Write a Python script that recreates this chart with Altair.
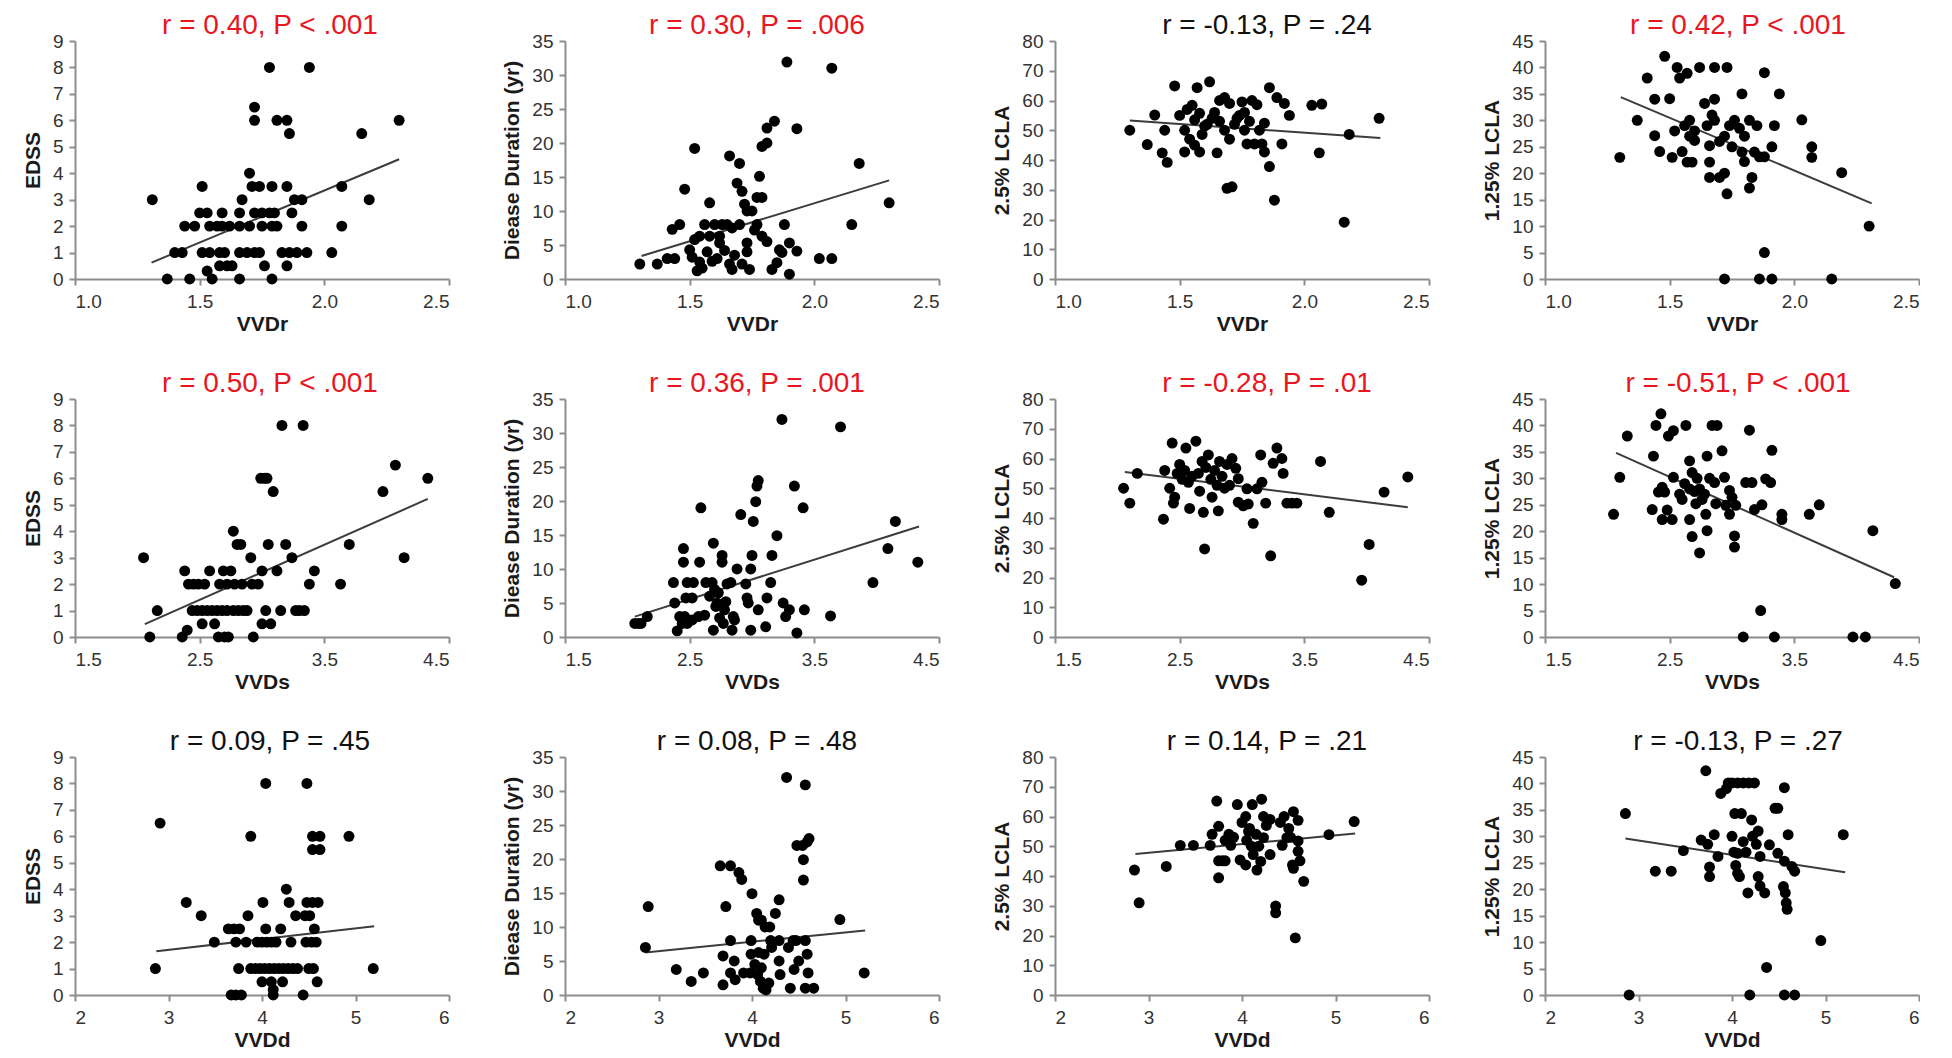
import altair as alt
import pandas as pd

# ---------------- data ----------------
titles = [
    ["r = 0.40, P < .001", "r = 0.30, P = .006", "r = -0.13, P = .24", "r = 0.42, P < .001"],
    ["r = 0.50, P < .001", "r = 0.36, P = .001", "r = -0.28, P = .01", "r = -0.51, P < .001"],
    ["r = 0.09, P = .45", "r = 0.08, P = .48", "r = 0.14, P = .21", "r = -0.13, P = .27"],
]
significant = [
    [True, True, False, True],
    [True, True, True, True],
    [False, False, False, False],
]
x_titles = ["VVDr", "VVDs", "VVDd"]
x_domains = [(1.0, 2.5), (1.5, 4.5), (2, 6)]
x_ticks = [[1.0, 1.5, 2.0, 2.5], [1.5, 2.5, 3.5, 4.5], [2, 3, 4, 5, 6]]
x_formats = [".1f", ".1f", "d"]
y_titles = ["EDSS", "Diease Duration (yr)", "2.5% LCLA", "1.25% LCLA"]
y_domains = [(0, 9), (0, 35), (0, 80), (0, 45)]
y_ticks = [list(range(0, 10, 1)), list(range(0, 36, 5)), list(range(0, 81, 10)), list(range(0, 46, 5))]
title_dx = [8, 5, 25, 6]

vvdr_edss = [(1.31,3),(1.37,0),(1.46,0),(1.53,0.3),(1.55,0),(1.66,0),(1.79,0),
    (1.51,3.5),(1.40,1),(1.43,1),(1.44,2),(1.48,2),(1.50,2.5),(1.53,2.5),
    (1.51,1),(1.54,1),(1.58,1),(1.60,1),(1.54,2),(1.57,2),(1.59,2),(1.62,2),
    (1.59,2.5),(1.58,0.5),(1.61,0.5),(1.63,0.5),(1.66,2.5),(1.67,3),
    (1.66,1),(1.69,1),(1.72,1),(1.74,1),(1.66,2),(1.70,2),(1.70,4),
    (1.71,3.5),(1.74,3.5),(1.79,3.5),(1.72,2.5),(1.75,2.5),(1.78,2.5),(1.80,2.5),
    (1.75,2),(1.79,2),(1.81,2),(1.76,0.5),(1.72,6.5),(1.72,6),(1.78,8),(1.81,6),(1.85,6),
    (1.86,5.5),(1.85,3.5),(1.83,1),(1.86,1),(1.89,1),(1.93,1),(1.85,0.5),(1.87,2.5),
    (1.88,3),(1.91,3),(1.91,2),(1.94,8),(2.03,1),(2.07,2),(2.07,3.5),(2.15,5.5),(2.18,3),(2.30,6)]
vvdr_dd = [(1.30,2.2),(1.37,2.2),(1.41,3),(1.44,3),(1.43,7.3),(1.46,8),(1.48,13.2),(1.52,19.2),
    (1.50,4.3),(1.52,5.8),(1.53,1.2),(1.51,3.2),(1.54,2.5),(1.55,1.6),(1.54,6.3),(1.56,8),(1.58,11.2),
    (1.58,6.3),(1.60,8),(1.57,4),(1.59,2.6),(1.61,3),(1.62,6.3),(1.63,8),(1.62,5.3),(1.64,4.2),
    (1.65,8),(1.67,7.5),(1.66,2.2),(1.67,1.4),(1.68,3.5),(1.66,18.1),(1.70,17),(1.69,14.1),
    (1.70,8),(1.71,12.9),(1.72,11),(1.73,10),(1.71,2.2),(1.73,4),(1.73,5.3),(1.74,1.4),
    (1.75,10),(1.77,12),(1.79,12),(1.78,15.1),(1.77,8),(1.76,7.2),(1.79,6.3),(1.81,5.5),
    (1.79,19.5),(1.81,20),(1.81,22.2),(1.84,23.2),(1.83,1.4),(1.85,2.4),(1.87,3.9),(1.86,4.3),
    (1.88,8),(1.89,31.9),(1.90,5.3),(1.93,4.1),(1.90,0.7),(1.93,22.1),(2.02,3),(2.07,3),
    (2.07,31),(2.15,8),(2.18,17),(2.30,11.2)]
vvdr_lcla25 = [(1.30,50),(1.37,45.2),(1.40,55.1),(1.43,42.4),(1.44,50),(1.45,39.2),(1.48,64.9),
    (1.50,55),(1.52,42.7),(1.52,50),(1.53,57),(1.55,58.4),(1.54,47),(1.56,45),(1.56,53.5),
    (1.57,64.3),(1.58,42.7),(1.58,55.7),(1.60,51.4),(1.59,48.6),(1.61,52),(1.62,66.3),
    (1.65,42.4),(1.64,56),(1.66,60),(1.68,61),(1.70,59),(1.66,53),(1.68,50),(1.70,47),
    (1.69,30.5),(1.71,31),(1.72,52),(1.74,55),(1.76,50),(1.75,59.5),(1.77,45.4),(1.78,53),
    (1.79,60),(1.80,45.4),(1.81,58.6),(1.82,50),(1.83,45.4),(1.84,52.4),(1.84,42.7),
    (1.86,64.3),(1.86,37.8),(1.88,26.5),(1.89,61),(1.92,59),(1.91,45.4),(1.94,55),
    (2.03,58.4),(2.07,58.8),(2.06,42.4),(2.16,19.1),(2.18,48.6),(2.30,54),(1.63,54),(1.73,54),(1.76,56)]
vvdr_lcla125 = [(1.30,23),(1.37,30),(1.41,38),(1.44,34),(1.44,27.1),(1.46,24.1),(1.48,42.1),(1.50,34.1),
    (1.51,23),(1.52,28),(1.53,40),(1.54,38),(1.55,24.1),(1.57,38.9),(1.56,29),(1.58,30),(1.58,27),
    (1.60,28),(1.57,22.1),(1.59,22.1),(1.60,26.2),(1.62,40),(1.64,33.2),(1.65,29),(1.66,25.2),
    (1.66,22.1),(1.66,19.2),(1.68,40),(1.68,34),(1.67,31),(1.68,30),(1.70,19.2),(1.72,20),
    (1.73,40),(1.73,16.1),(1.72,0),(1.72,27),(1.74,29),(1.75,25),(1.76,30),(1.79,35),(1.79,24),
    (1.80,27),(1.80,22.2),(1.82,30),(1.83,19.2),(1.82,17.2),(1.84,24),(1.85,29),(1.86,23.1),
    (1.86,0),(1.88,39),(1.88,23.1),(1.88,5),(1.91,25),(1.91,0),(1.92,29),(1.94,35),(2.03,30.1),
    (2.07,25),(2.07,23),(2.15,0),(2.19,20.1),(2.30,10),(1.70,26),(1.78,28.5)]
vvds_edss = [(2.05,3),(2.10,0),(2.16,1),(2.36,0),(2.40,0.26),(2.38,2.5),(2.41,2),(2.45,2),(2.49,2),(2.54,2),
    (2.44,1),(2.48,1),(2.52,1),(2.56,1),(2.60,1),(2.64,1),(2.68,1),(2.72,1),(2.77,1),(2.81,1),(2.85,1),
    (2.52,0.5),(2.62,0.5),(2.58,2.5),(2.65,0),(2.70,0),(2.73,0),(2.69,2.5),(2.75,2.5),
    (2.66,2),(2.72,2),(2.78,2),(2.84,2),(2.77,4),(2.80,3.5),(2.83,3.5),(2.91,3),(2.93,0),(2.97,2),
    (2.99,6),(3.02,6),(3.04,6),(3.00,2.5),(3.00,0.5),(3.03,1),(3.05,3.5),(3.07,0.5),(3.09,5.5),
    (3.12,2.5),(3.15,1),(3.16,8),(3.19,3.5),(3.24,3),(3.27,1),(3.30,1),(3.34,1),(3.33,8),
    (3.38,2),(3.42,2.5),(3.63,2),(3.70,3.5),(3.97,5.5),(4.07,6.5),(4.14,3),(4.33,6),(2.88,1),(2.92,2)]
vvds_dd = [(2.06,2),(2.09,2),(2.11,2),(2.16,3),(2.37,8),(2.38,5),(2.40,0.9),(2.45,13),(2.45,11),
    (2.42,3),(2.46,3),(2.44,2),(2.48,2),(2.47,5.75),(2.52,5.75),(2.48,8),(2.53,8),(2.52,2.5),
    (2.58,11),(2.59,19),(2.57,3),(2.62,3.2),(2.63,8),(2.68,8),(2.69,13.8),(2.66,6),(2.70,7),
    (2.71,4.5),(2.69,1),(2.72,5),(2.74,2.8),(2.76,12),(2.76,11),(2.77,2),(2.80,7.8),(2.83,8),
    (2.79,5.2),(2.84,1),(2.85,3),(2.88,10),(2.91,18),(2.86,2.5),(2.95,7.8),(2.96,5.75),(2.97,5),
    (2.99,10),(2.99,1),(3.00,12),(3.01,17),(3.03,19.9),(3.04,22.2),(3.05,23),(3.05,4),(3.11,1.5),
    (3.12,5.75),(3.15,8),(3.16,12),(3.20,14.9),(3.24,32),(3.25,5),(3.27,3),(3.30,4),(3.34,22.2),
    (3.36,0.6),(3.41,19),(3.42,4),(3.63,3.1),(3.71,30.9),(3.97,8),(4.09,13),(4.15,17),(4.33,11),(2.73,6.5),(2.78,4)]
vvds_lcla25 = [(2.05,50),(2.10,45),(2.16,55),(2.37,39.6),(2.38,56),(2.42,50),(2.44,65.2),(2.45,45),(2.46,47),
    (2.48,55),(2.50,58),(2.52,53),(2.54,56),(2.55,63.5),(2.57,52),(2.58,43.2),(2.63,65.8),(2.65,55),
    (2.68,59),(2.71,57),(2.66,49),(2.69,41.9),(2.70,29.6),(2.73,61.2),(2.76,47),(2.75,53),(2.78,56),
    (2.80,51),(2.82,59),(2.84,54),(2.86,50),(2.88,58),(2.81,42.4),(2.92,60),(2.95,56.7),(2.97,53.2),
    (2.97,45.3),(3.01,44.1),(3.04,49.8),(3.05,44.7),(3.09,38.2),(3.12,49.8),(3.15,61.2),(3.16,52),
    (3.19,45),(3.23,27.3),(3.25,58.4),(3.28,63.5),(3.32,60),(3.33,55),(3.36,45),(3.40,45),(3.44,45),
    (3.63,59),(3.70,41.9),(4.02,31.1),(3.96,19.1),(4.14,48.7),(4.33,53.8),(2.90,51),(2.60,54)]
vvds_lcla125 = [(2.05,23.2),(2.10,30.2),(2.16,38),(2.36,24.1),(2.37,34.2),(2.39,40),(2.43,42.2),(2.41,27.4),
    (2.46,27.4),(2.44,28.3),(2.44,22.2),(2.48,24),(2.49,38),(2.52,22.2),(2.53,39),(2.53,30.2),
    (2.58,27),(2.62,29),(2.60,26),(2.66,28),(2.63,40),(2.66,33.3),(2.66,22.2),(2.68,19),(2.68,31.1),
    (2.71,25.2),(2.74,15.9),(2.74,28),(2.78,27),(2.82,30),(2.76,26),(2.79,23.2),(2.80,34.2),(2.80,20.1),
    (2.84,40),(2.88,40),(2.86,29.2),(2.87,25.2),(2.92,35.2),(2.94,30.2),(2.95,24.9),(2.98,23.2),
    (2.98,27.7),(3.00,26.4),(3.02,19.1),(3.02,17),(3.03,24.9),(3.09,0),(3.11,29.2),(3.14,39.1),
    (3.16,29.2),(3.18,24.1),(3.23,5),(3.24,25),(3.27,29.9),(3.31,29.2),(3.32,35.3),(3.34,0),
    (3.40,23.2),(3.40,22.2),(3.62,23.2),(3.70,25),(3.97,0),(4.07,0),(4.13,20.1),(4.31,10.1),(2.70,27.5),(2.72,30)]
vvdd_edss = [(2.86,1),(2.91,6.5),(3.19,3.5),(3.35,3),(3.49,2),(3.64,2.5),(3.70,2.5),(3.76,2.5),
    (3.67,0),(3.72,0),(3.78,0),(3.72,2),(3.83,2),(3.75,1),(3.85,3),(3.88,6),
    (3.88,1),(3.93,1),(3.98,1),(4.03,1),(4.08,1),(4.13,1),(4.18,1),(4.23,1),(4.28,1),(4.33,1),(4.38,1),
    (3.95,2),(4.00,2),(4.05,2),(4.10,2),(4.15,2),(4.01,3.5),(4.04,8),(4.04,2.5),(4.00,0.5),(4.10,0.5),
    (4.12,0),(4.20,2.5),(4.22,0.5),(4.26,4),(4.29,3.5),(4.31,2),(4.36,3),(4.44,0),(4.48,8),
    (4.47,2),(4.53,2),(4.58,2),(4.46,3),(4.51,3),(4.48,3.5),(4.54,3.5),(4.60,3.5),(4.56,2.5),
    (4.54,6),(4.62,6),(4.54,5.5),(4.62,5.5),(4.50,1),(4.55,1),(4.59,0.5),(4.93,6),(5.19,1),(4.12,0.2)]
vvdd_dd = [(2.86,7),(2.89,13),(3.19,3.75),(3.35,2),(3.48,3.25),(3.66,19),(3.77,19),(3.72,13),(3.69,5.75),
    (3.69,1.5),(3.77,8),(3.77,3.25),(3.81,5),(3.82,2.25),(3.86,18),(3.89,17),(3.91,3.25),(3.98,3.25),
    (3.99,8),(3.99,6),(4.00,14.9),(4.05,12),(4.07,11),(4.10,11),(4.07,6.25),(4.03,4.5),(4.06,3),
    (4.09,2),(4.12,1),(4.15,0.75),(4.18,1.75),(4.14,10),(4.19,10),(4.20,8),(4.21,7),(4.25,12),
    (4.29,14),(4.29,8),(4.29,5),(4.30,3),(4.37,32),(4.39,7),(4.41,1),(4.44,8),(4.47,8),(4.45,3.75),
    (4.48,22),(4.50,5),(4.54,22),(4.55,19.9),(4.55,16.9),(4.57,30.9),(4.57,8),(4.59,6),(4.60,3.25),
    (4.59,22.5),(4.61,23),(4.57,1),(4.66,1),(4.94,11.1),(5.20,3.25),(4.10,4),(4.13,6)]
vvdd_lcla25 = [(2.85,42),(2.90,31),(3.19,43.2),(3.34,50.3),(3.48,50.3),(3.66,50.3),(3.68,54),(3.73,65.2),
    (3.75,56.7),(3.75,45.1),(3.79,45.1),(3.82,45.1),(3.75,39.4),(3.82,52),(3.86,54),(3.91,53),
    (3.88,50.3),(3.95,64),(4.00,58),(4.04,60),(4.08,56),(3.98,45.4),(4.04,43.7),(4.05,52),
    (4.10,50),(4.15,54),(4.11,64),(4.12,47.2),(4.16,42),(4.20,44.9),(4.21,65.8),(4.23,60),
    (4.26,57),(4.30,59),(4.23,52.9),(4.30,47.2),(4.36,29.9),(4.36,27.6),(4.41,58),(4.45,60),
    (4.50,56),(4.43,50.3),(4.48,52.9),(4.54,43.7),(4.55,42.6),(4.55,61.6),(4.60,58.7),(4.60,51.8),
    (4.60,48.3),(4.62,45.1),(4.66,38.2),(4.57,19.2),(4.93,53.9),(5.20,58.3),(4.07,55),(4.18,50),(4.52,53)]
vvdd_lcla125 = [(2.86,34.3),(2.90,0),(3.18,23.4),(3.35,23.4),(3.48,27.3),(3.67,29.3),(3.72,42.4),(3.74,28.5),
    (3.76,24.2),(3.76,22.4),(3.81,30.3),(3.85,26.2),(3.88,38.1),(3.94,39),(3.96,40.1),(4.00,40.1),
    (4.06,40.1),(4.12,40.1),(4.18,40.1),(4.24,40.1),(4.00,30),(4.02,27),(4.04,24.5),(4.06,23),
    (4.03,34.3),(4.06,26.8),(4.10,34.3),(4.08,22.4),(4.17,19.3),(4.19,0),(4.21,33.1),(4.22,30),
    (4.26,28.5),(4.28,31),(4.28,22.4),(4.30,26.2),(4.30,20.6),(4.35,19.3),(4.37,5.2),(4.40,28.4),
    (4.46,35.3),(4.49,35.3),(4.49,26.8),(4.56,39.2),(4.55,20.5),(4.57,19.3),(4.56,25.3),(4.58,17.4),
    (4.59,16.2),(4.56,0),(4.60,30.3),(4.64,24.3),(4.67,0),(4.67,23.4),(4.95,10.3),(5.19,30.3),(4.12,29),(4.15,27)]

points = [
    [vvdr_edss, vvdr_dd, vvdr_lcla25, vvdr_lcla125],
    [vvds_edss, vvds_dd, vvds_lcla25, vvds_lcla125],
    [vvdd_edss, vvdd_dd, vvdd_lcla25, vvdd_lcla125],
]
# fitted-line end points
fit_lines = [
    [[(1.307, 0.62), (2.30, 4.53)], [(1.307, 3.38), (2.30, 14.5)],
     [(1.30, 53.3), (2.305, 47.4)], [(1.304, 34.4), (2.31, 14.3)]],
    [[(2.06, 0.49), (4.33, 5.22)], [(2.06, 3.0), (4.34, 16.25)],
     [(2.06, 55.5), (4.33, 43.6)], [(2.07, 34.8), (4.30, 11.3)]],
    [[(2.87, 1.65), (5.20, 2.6)], [(2.86, 6.25), (5.21, 9.5)],
     [(2.86, 47.4), (5.21, 54.3)], [(2.86, 29.6), (5.21, 23.2)]],
]

RED = "#e8161e"
FONT = "Liberation Sans"


def panel(r, c):
    df = pd.DataFrame(points[r][c], columns=["x", "y"])
    ldf = pd.DataFrame(fit_lines[r][c], columns=["x", "y"])
    xenc = alt.X("x:Q",
                 scale=alt.Scale(domain=list(x_domains[r]), nice=False, zero=False),
                 axis=alt.Axis(values=x_ticks[r], format=x_formats[r], title=x_titles[r],
                               labelOverlap=False))
    yenc = alt.Y("y:Q",
                 scale=alt.Scale(domain=list(y_domains[c]), nice=False, zero=True),
                 axis=alt.Axis(values=y_ticks[c], title=y_titles[c], labelOverlap=False))
    line = alt.Chart(ldf).mark_line(color="#3c3c3c", strokeWidth=2).encode(x=xenc, y=yenc)
    dots = alt.Chart(df).mark_circle(size=120, color="black", opacity=1).encode(x=xenc, y=yenc)
    return alt.layer(line, dots).properties(
        width=374, height=238,
        title=alt.Title(titles[r][c], color=RED if significant[r][c] else "#111111",
                        fontSize=28, font=FONT, fontWeight="normal", offset=-8,
                        dx=title_dx[c], anchor="middle", frame="group"),
    )


panels = [panel(r, c) for r in range(3) for c in range(4)]
chart = alt.concat(*panels, columns=4, spacing={"row": 120, "column": 116}, bounds="flush").properties(
    padding={"left": 14, "top": 4, "right": 0, "bottom": 0}
).configure_view(stroke=None).configure_axis(
    grid=False,
    domainColor="#8c8c8c", domainWidth=2,
    tickColor="#8c8c8c", tickWidth=2, tickSize=6,
    labelFont=FONT, labelFontSize=19, labelColor="#333333", labelPadding=6,
    titleFont=FONT, titleFontSize=21, titleFontWeight="bold", titleColor="#1a1a1a",
).configure_axisX(labelPadding=7, titlePadding=2).configure_axisY(titlePadding=9)

chart.save("out.html", embed_options={"renderer": "svg", "actions": False})
